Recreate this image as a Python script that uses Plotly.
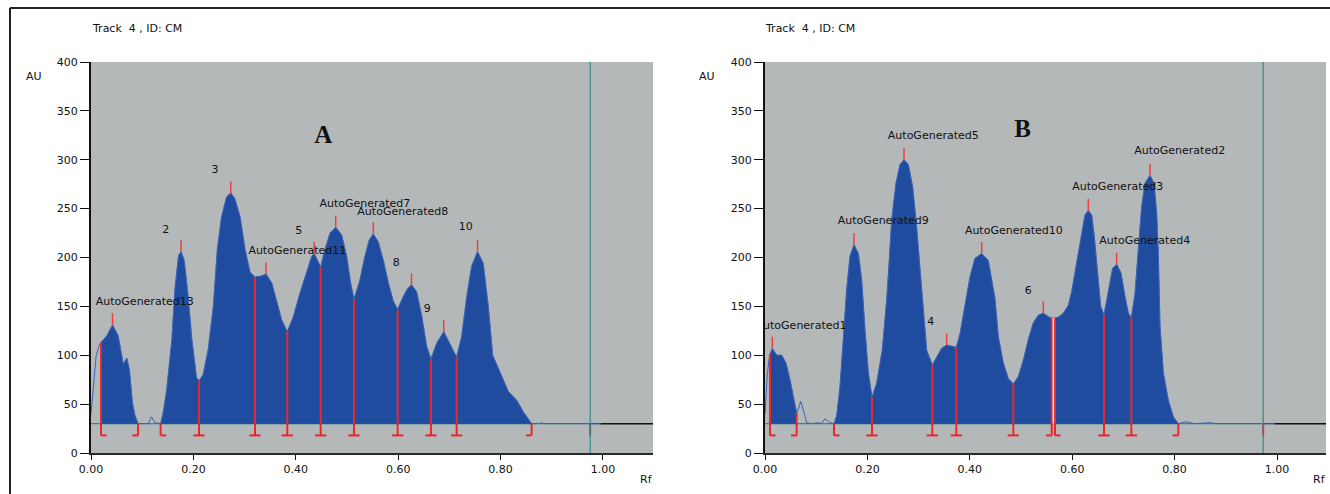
import numpy as np
import plotly.graph_objects as go

W, H = 1330, 494
FONT = "DejaVu Sans"
BASE = 30.0
FOOT_Y = 18.0

# ---------------- Panel A data ----------------
rf_a = [0.000, 0.005, 0.010, 0.016, 0.0195, 0.031, 0.042, 0.053, 0.063, 0.070, 0.075, 0.081, 0.086, 0.092,
        0.112, 0.118, 0.125, 0.136, 0.141, 0.148, 0.158, 0.164, 0.171, 0.176, 0.182, 0.189, 0.197, 0.206,
        0.211, 0.219, 0.229, 0.239, 0.2467, 0.2552, 0.265, 0.273, 0.281, 0.291, 0.301, 0.3105, 0.3203,
        0.3333, 0.3418, 0.353, 0.3627, 0.3724, 0.3834, 0.395, 0.408, 0.421, 0.431, 0.436, 0.442, 0.4486,
        0.457, 0.467, 0.478, 0.4896, 0.4994, 0.507, 0.5137, 0.5254, 0.535, 0.5436, 0.5514, 0.561, 0.571,
        0.5807, 0.5905, 0.599, 0.610, 0.618, 0.626, 0.636, 0.646, 0.6556, 0.664, 0.675, 0.689, 0.701,
        0.714, 0.724, 0.734, 0.7435, 0.755, 0.766, 0.776, 0.7845, 0.7956, 0.8053, 0.815, 0.8314, 0.8444,
        0.8607, 0.875, 0.880, 0.885, 0.975]
au_a = [40, 72, 99, 110, 113, 120, 131, 120, 91, 97, 85, 51, 38, 30,
        30, 37, 31, 30, 41, 65, 116, 168, 202, 206, 197, 164, 116, 77,
        74, 80, 106, 150, 208, 242, 262, 266, 260, 242, 208, 185, 180,
        181, 183, 174, 156, 136, 124, 139, 163, 184, 201, 204, 197, 190,
        208, 225, 231, 223, 201, 174, 157, 177, 201, 218, 224, 216, 197,
        174, 155, 147, 160, 168, 172, 165, 140, 109, 96, 112, 124, 112,
        98, 119, 160, 191, 206, 194, 150, 100, 87, 75, 63, 54, 42,
        30, 30, 31, 30, 30]
fill_regions_a = [(0.0195, 0.092), (0.136, 0.8607)]
bounds_a = [0.0195, 0.092, 0.136, 0.211, 0.3203, 0.3834, 0.4486, 0.5137, 0.599, 0.664, 0.7142, 0.8607]
bound_kinds_a = ["L", "R", "L", "B", "B", "B", "B", "B", "B", "B", "B", "R"]
peaks_a = [0.042, 0.176, 0.273, 0.3418, 0.436, 0.478, 0.5514, 0.626, 0.689, 0.755]
labels_a = ["AutoGenerated13", "2", "3", "AutoGenerated11", "5", "AutoGenerated7", "AutoGenerated8",
            "8", "9", "10"]
label_x_a = [0.105, 0.146, 0.242, 0.403, 0.406, 0.535, 0.609, 0.596, 0.657, 0.732]
label_y_a = [154, 228, 289, 206, 227, 254, 246.5, 194, 147, 230.5]
front_a = 0.975

# ---------------- Panel B data ----------------
rf_b = [0.000, 0.0046, 0.0085, 0.0098, 0.0143, 0.0228, 0.0326, 0.041, 0.0488, 0.0566, 0.0618, 0.0664,
        0.0697, 0.0748, 0.0814, 0.091, 0.104, 0.110, 0.117, 0.127, 0.1348, 0.140, 0.1465, 0.153, 0.1595,
        0.166, 0.1738, 0.1823, 0.1888, 0.1953, 0.2018, 0.209, 0.218, 0.229, 0.2376, 0.2425, 0.2474,
        0.2559, 0.2637, 0.2715, 0.280, 0.2884, 0.2962, 0.304, 0.3125, 0.3158, 0.3268, 0.3353, 0.345,
        0.3548, 0.3646, 0.3737, 0.381, 0.3906, 0.4004, 0.410, 0.4232, 0.436, 0.4395, 0.4492, 0.4557,
        0.459, 0.4655, 0.4753, 0.485, 0.4948, 0.5046, 0.5143, 0.524, 0.5338, 0.5436, 0.5533, 0.560,
        0.5664, 0.5729, 0.5827, 0.5924, 0.599, 0.6055, 0.612, 0.6186, 0.625, 0.6315, 0.638, 0.6432,
        0.649, 0.6556, 0.6621, 0.6705, 0.679, 0.6869, 0.6953, 0.7031, 0.7096, 0.7155, 0.7227, 0.7292,
        0.7357, 0.7422, 0.752, 0.7598, 0.765, 0.7682, 0.7715, 0.778, 0.7877, 0.7975, 0.8073, 0.815,
        0.824, 0.830, 0.840, 0.870, 0.880, 0.973]
au_b = [40, 81, 98, 101, 107, 100, 100, 92, 75, 54, 41, 47,
        53, 44, 31, 30, 31, 30, 35, 31, 30, 38, 68, 116, 167,
        201, 213, 204, 177, 126, 82, 57, 71, 105, 156, 195, 238,
        276, 295, 300, 295, 272, 231, 180, 129, 105, 90, 98.5, 107,
        110.5, 109.5, 108, 122, 150, 180, 199, 204, 197, 187, 158, 119,
        109, 92, 76, 70.6, 78, 95, 116, 133, 141, 143, 139.5, 138,
        138, 139, 143, 151, 165, 185, 204, 228, 243.5, 248, 243.5, 221,
        184, 150, 141, 163, 189, 193, 184, 160, 143, 138, 163, 208,
        252, 276, 284, 276, 245, 204, 130, 82, 54, 37, 30, 31,
        32, 31, 30, 31, 30, 30]
fill_regions_b = [(0.0098, 0.0618), (0.1348, 0.560), (0.5664, 0.8073)]
bounds_b = [0.0098, 0.0618, 0.1348, 0.209, 0.3268, 0.3737, 0.485, 0.560, 0.5664, 0.6621, 0.7155, 0.8073]
bound_kinds_b = ["L", "R", "L", "B", "B", "B", "B", "R", "L", "B", "B", "R"]
peaks_b = [0.0143, 0.1738, 0.2715, 0.3548, 0.4232, 0.5436, 0.6315, 0.6869, 0.752]
labels_b = ["AutoGenerated1", "AutoGenerated9", "AutoGenerated5", "4", "AutoGenerated10", "6",
            "AutoGenerated3", "AutoGenerated4", "AutoGenerated2"]
label_x_b = [0.0703, 0.231, 0.3287, 0.3236, 0.486, 0.5143, 0.689, 0.7416, 0.81]
label_y_b = [130, 236.6, 324.3, 133.3, 226.4, 165, 271.4, 216.2, 308.3]
front_b = 0.973

x_ticks = [0.0, 0.2, 0.4, 0.6, 0.8, 1.0]
x_ticktext = ["0.00", "0.20", "0.40", "0.60", "0.80", "1.00"]
y_ticks = [0, 50, 100, 150, 200, 250, 300, 350, 400]

FILL = "#1f4c9e"
THIN = "#3a62b8"
RED = "#e8282c"
TEAL = "#2a8c8c"

fig = go.Figure()


def add_panel(xa, ya, rf, au, regions, bounds, kinds, peaks, labels, lx, ly, front, letter, letter_xy):
    rf = np.asarray(rf, float)
    au = np.asarray(au, float)
    kw = dict(xaxis=xa, yaxis=ya, showlegend=False, hoverinfo="skip")
    # baseline
    fig.add_trace(go.Scatter(x=[0, front], y=[BASE, BASE], mode="lines",
                             line=dict(color=TEAL, width=1.2), **kw))
    fig.add_trace(go.Scatter(x=[front, 0.995], y=[BASE, BASE], mode="lines",
                             line=dict(color="#3050c0", width=1.5), **kw))
    fig.add_trace(go.Scatter(x=[0.995, 1.2], y=[BASE, BASE], mode="lines",
                             line=dict(color="#111111", width=1.5), **kw))
    # filled peak regions
    for a, b in regions:
        inside = (rf > a) & (rf < b)
        xs = [a] + list(rf[inside]) + [b, b, a]
        ys = [np.interp(a, rf, au)] + list(au[inside]) + [np.interp(b, rf, au), BASE, BASE]
        fig.add_trace(go.Scatter(x=xs, y=ys, mode="lines", fill="toself", fillcolor=FILL,
                                 line=dict(color=FILL, width=0.5), **kw))
    # thin scan line
    fig.add_trace(go.Scatter(x=rf, y=au, mode="lines", line=dict(color=THIN, width=1), **kw))
    # boundary markers
    bx, by = [], []
    d = 0.011
    for p, k in zip(bounds, kinds):
        top = float(np.interp(p, rf, au))
        bx += [p, p, None]
        by += [top, FOOT_Y, None]
        if k == "B":
            bx += [p - d, p + d, None]
        elif k == "L":
            bx += [p, p + d, None]
        else:
            bx += [p - d, p, None]
        by += [FOOT_Y, FOOT_Y, None]
    bx += [front, front, None]
    by += [BASE, FOOT_Y, None]
    fig.add_trace(go.Scatter(x=bx, y=by, mode="lines", line=dict(color=RED, width=2), **kw))
    # peak ticks
    px_, py_ = [], []
    for p in peaks:
        top = float(np.interp(p, rf, au))
        px_ += [p, p, None]
        py_ += [top, top + 12, None]
    fig.add_trace(go.Scatter(x=px_, y=py_, mode="lines", line=dict(color="#ee4040", width=1.5), **kw))
    # front line
    fig.add_trace(go.Scatter(x=[front, front], y=[0, 400], mode="lines",
                             line=dict(color=TEAL, width=1.2), **kw))
    # labels
    fig.add_trace(go.Scatter(x=lx, y=ly, mode="text", text=labels, cliponaxis=True,
                             textfont=dict(family=FONT, size=11, color="#111111"), **kw))
    fig.add_trace(go.Scatter(x=[letter_xy[0]], y=[letter_xy[1]], mode="text", text=["<b>%s</b>" % letter],
                             cliponaxis=True,
                             textfont=dict(family="Liberation Serif", size=25, color="#111111"), **kw))


add_panel("x", "y", rf_a, au_a, fill_regions_a, bounds_a, bound_kinds_a, peaks_a,
          labels_a, label_x_a, label_y_a, front_a, "A", (0.4537, 323.6))
add_panel("x2", "y2", rf_b, au_b, fill_regions_b, bounds_b, bound_kinds_b, peaks_b,
          labels_b, label_x_b, label_y_b, front_b, "B", (0.503, 329.7))

# cream gap between the two close boundaries in panel B
fig.add_trace(go.Scatter(x=[0.5632, 0.5632], y=[BASE, float(np.interp(0.5632, rf_b, au_b))],
                         mode="lines", line=dict(color="#efe2cf", width=1.5),
                         xaxis="x2", yaxis="y2", showlegend=False, hoverinfo="skip"))

ydom = [41 / H, 432 / H]
xax = dict(range=[0, 1.0977], tickvals=x_ticks, ticktext=x_ticktext, ticks="outside", ticklen=5,
           tickwidth=1, tickcolor="#111", showgrid=False, zeroline=False, showline=True,
           linecolor="#2a2a2a", linewidth=2, tickfont=dict(family=FONT, size=11, color="#111"),
           fixedrange=True, automargin=False)
yax = dict(range=[0, 400], tickvals=y_ticks, ticks="outside", ticklen=9, tickwidth=1, tickcolor="#111",
           showgrid=False, zeroline=False, showline=True, linecolor="#111", linewidth=2,
           tickfont=dict(family=FONT, size=11, color="#111"), domain=ydom, fixedrange=True,
           automargin=False)

fig.update_layout(
    width=W, height=H, autosize=False, margin=dict(l=0, r=0, t=0, b=0, pad=0),
    paper_bgcolor="white", plot_bgcolor="#b5b8b9",
    xaxis=dict(xax, domain=[91 / W, 653 / W], anchor="y"),
    yaxis=dict(yax, anchor="x"),
    xaxis2=dict(xax, domain=[765 / W, 1326 / W], anchor="y2", range=[0, 1.0957]),
    yaxis2=dict(yax, anchor="x2"),
    font=dict(family=FONT, size=11, color="#111"),
)


def pxx(v):
    return v / W


def pyy(v):
    return 1 - v / H


ann = []
for x0 in (90, 763):
    ann.append(dict(x=pxx(x0), y=pyy(29), xref="paper", yref="paper", xanchor="left", yanchor="middle",
                    text="Track\u00a0\u00a04\u00a0, ID: CM", showarrow=False,
                    font=dict(family=FONT, size=11, color="#111")))
for x0 in (34, 707):
    ann.append(dict(x=pxx(x0), y=pyy(76), xref="paper", yref="paper", xanchor="center", yanchor="middle",
                    text="AU", showarrow=False, font=dict(family=FONT, size=11, color="#111")))
for x0 in (646.7, 1319):
    ann.append(dict(x=pxx(x0), y=pyy(479), xref="paper", yref="paper", xanchor="center", yanchor="middle",
                    text="Rf", showarrow=False, font=dict(family=FONT, size=11, color="#111")))
fig.update_layout(annotations=ann)

fig.update_layout(shapes=[
    dict(type="line", xref="paper", yref="paper", x0=pxx(10), x1=1, y0=pyy(8), y1=pyy(8),
         line=dict(color="#222", width=2)),
    dict(type="line", xref="paper", yref="paper", x0=pxx(10), x1=pxx(10), y0=0, y1=pyy(8),
         line=dict(color="#222", width=2)),
])

fig.write_html("out.html")
